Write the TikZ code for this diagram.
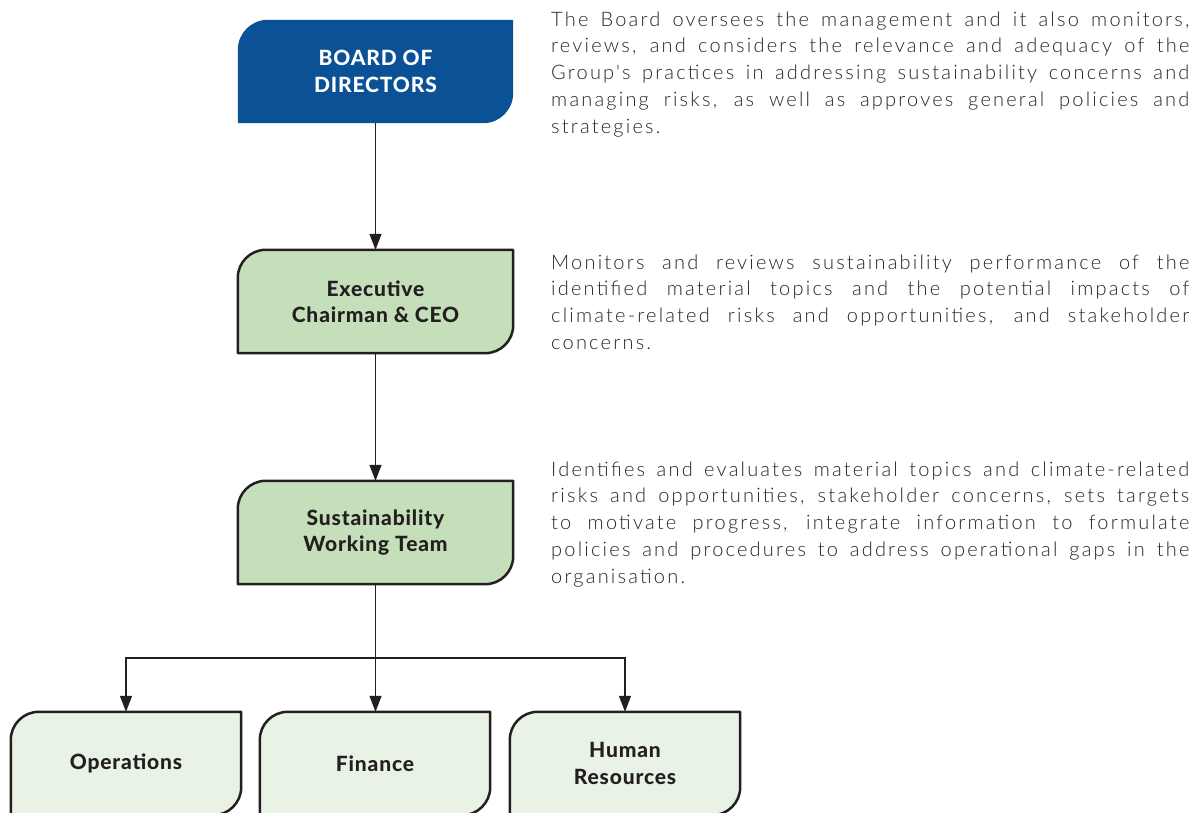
\documentclass[tikz,border=0pt]{standalone}
\usepackage{fontspec}
\setmainfont{Lato}
\newfontfamily\boxfont{Lato}[UprightFont=* Heavy,LetterSpace=4]
\newfontfamily\bodyfont{Lato Light}[LetterSpace=11]
\usetikzlibrary{arrows.meta,backgrounds,calc}
\definecolor{boardblue}{HTML}{0A5195}
\definecolor{midgreen}{HTML}{C6DFBB}
\definecolor{palegreen}{HTML}{E8F2E5}
\definecolor{inkdark}{HTML}{231F20}
\definecolor{bodygray}{HTML}{262626}
\tikzset{
  x=1pt,y=1pt,
  orgbox/.style={minimum width=275pt,minimum height=103pt,inner sep=0pt,align=center,
    font=\boxfont\fontsize{21}{26.5}\selectfont,text=inkdark},
  smallbox/.style={orgbox,minimum width=230pt},
  link/.style={draw=inkdark,line width=1.3pt,-{Triangle[length=16pt,width=12pt]}},
  desc/.style={anchor=north west,inner sep=0pt,text width=638pt,align=justify,
    font=\bodyfont\fontsize{20}{26.7}\selectfont,text=bodygray},
  leaf/.style={draw=inkdark,line width=2.5pt,line join=round}
}
\newcommand\leafpath[3]{% node, radius, style
  \path[#3] (#1.south west) -- ($(#1.north west)+(0,-#2)$)
    arc[start angle=180,end angle=90,radius=#2] -- (#1.north east)
    -- ($(#1.south east)+(0,#2)$) arc[start angle=0,end angle=-90,radius=#2] -- cycle;}
\begin{document}
\begin{tikzpicture}
\useasboundingbox (0,0) rectangle (1193,812);
\node[orgbox,text=white] (board) at (375.5,740.5) {BOARD OF\\DIRECTORS};
\node[orgbox] (ceo) at (375.5,510.5) {Executive\\Chairman \& CEO};
\node[orgbox] (swt) at (375.5,279.5) {Sustainability\\Working Team};
\node[smallbox] (ops) at (126,48.5) {Operations};
\node[smallbox] (fin) at (375,48.5) {Finance};
\node[smallbox] (hr) at (625,48.5) {Human\\Resources};
\begin{pgfonlayer}{background}
  \leafpath{board}{30pt}{fill=boardblue}
  \leafpath{ceo}{28pt}{leaf,fill=midgreen}
  \leafpath{swt}{28pt}{leaf,fill=midgreen}
  \leafpath{ops}{28pt}{leaf,fill=palegreen}
  \leafpath{fin}{28pt}{leaf,fill=palegreen}
  \leafpath{hr}{28pt}{leaf,fill=palegreen}
\end{pgfonlayer}
\coordinate (split) at (375.5,154);
\draw[link] (board) -- (ceo);
\draw[link] (ceo) -- (swt);
\draw[link] (swt.south) -- (fin.north -| swt.south);
\draw[link] (split) -| (ops.north);
\draw[link] (split) -| (hr.north);
\node[desc] (d1) at (551,800.5) {The Board oversees the management and it also monitors,\linebreak
reviews, and considers the relevance and adequacy of the\linebreak
Group's practices in addressing sustainability concerns and\linebreak
managing risks, as well as approves general policies and\linebreak
strategies.};
\node[desc] (d2) at (551,557.5) {Monitors and reviews sustainability performance of the\linebreak
identified material topics and the potential impacts of\linebreak
climate-related risks and opportunities, and stakeholder\linebreak
concerns.};
\node[desc] (d3) at (551,350.5) {Identifies and evaluates material topics and climate-related\linebreak
risks and opportunities, stakeholder concerns, sets targets\linebreak
to motivate progress, integrate information to formulate\linebreak
policies and procedures to address operational gaps in the\linebreak
organisation.};
\end{tikzpicture}
\end{document}
